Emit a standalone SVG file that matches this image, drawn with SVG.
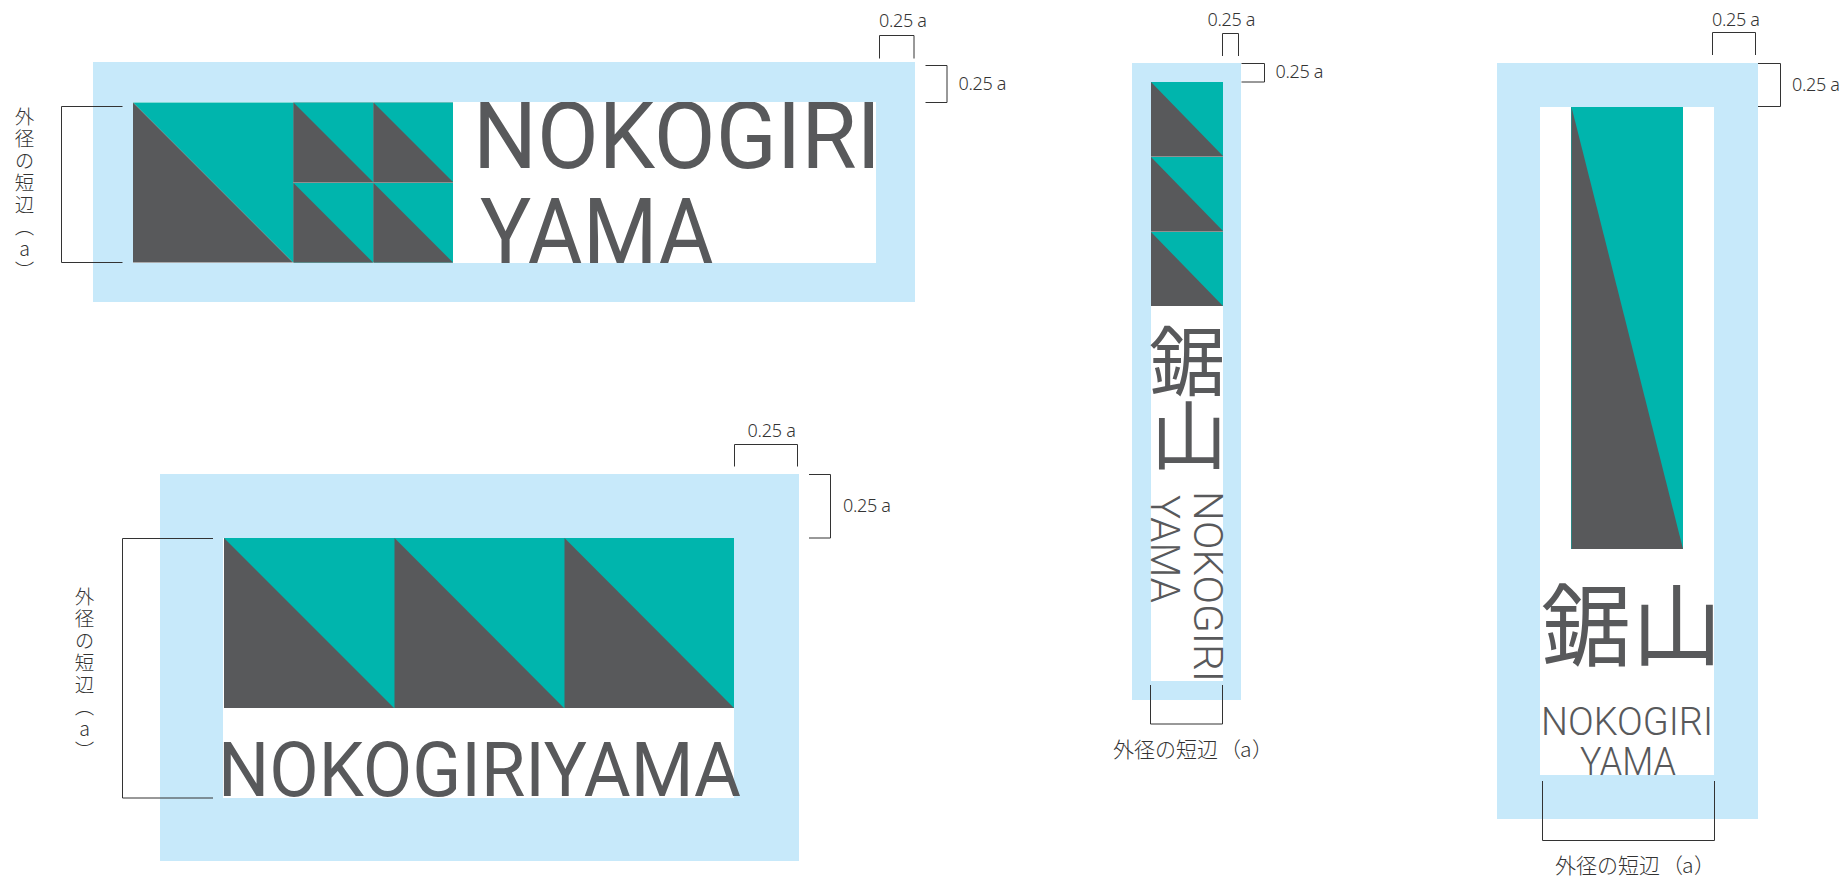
<svg xmlns="http://www.w3.org/2000/svg" width="1845" height="878" viewBox="0 0 1845 878">
<style>
.blue{fill:#c7e9fa}.white{fill:#fff}.teal{fill:#00b5ad}.gray{fill:#58595b}
.hair{fill:none;stroke:#8f9091;stroke-width:1}
.logo{fill:#58595b;font-family:Roboto,"Noto Sans",sans-serif;font-weight:400}
.thin{font-weight:300}
.kanji{fill:#58595b;font-family:"Noto Sans CJK JP",sans-serif;font-weight:400}
.dim{fill:#333;font-family:"Noto Sans","Liberation Sans",sans-serif;font-weight:300;font-size:18px}
.note{fill:#333;font-family:"Noto Sans CJK JP",sans-serif;font-weight:300;font-size:19.500px}
.wide{font-size:21px}
.vert{writing-mode:vertical-rl;text-orientation:upright;letter-spacing:2.500px}
.br{fill:none;stroke:#333;stroke-width:1}
</style>
<defs>
<clipPath id="c1"><rect x="133" y="102" width="743" height="161"/></clipPath>
<clipPath id="c4"><rect x="1540" y="107" width="174" height="668"/></clipPath>
</defs>

<g id="panel-horizontal">
<rect class="blue" x="93" y="62" width="822" height="240"/>
<rect class="white" x="133" y="102" width="743" height="161"/>
<rect x="293" y="102.500" width="160" height="160" fill="#8f9091"/>
<polygon class="teal" points="133,102.500 293,102.500 293,262.500"/>
<polygon class="gray" points="133,102.500 293,262.500 133,262.500"/>
<g id="tile-1"><rect class="teal" x="293.500" y="102.500" width="79.500" height="79.500"/><polygon class="gray" points="293.500,102.500 373,182 293.500,182"/></g>
<g id="tile-2"><rect class="teal" x="373.500" y="102.500" width="79.500" height="79.500"/><polygon class="gray" points="373.500,102.500 453,182 373.500,182"/></g>
<g id="tile-3"><rect class="teal" x="293.500" y="183" width="79.500" height="79.500"/><polygon class="gray" points="293.500,183 373,262.500 293.500,262.500"/></g>
<g id="tile-4"><rect class="teal" x="373.500" y="183" width="79.500" height="79.500"/><polygon class="gray" points="373.500,183 453,262.500 373.500,262.500"/></g>
<g clip-path="url(#c1)">
<text class="logo" x="473" y="168" font-size="92" textLength="408" lengthAdjust="spacingAndGlyphs">NOKOGIRI</text>
<text class="logo" x="480" y="264" font-size="92" textLength="234" lengthAdjust="spacingAndGlyphs">YAMA</text>
</g>
</g>

<g id="panel-wide">
<rect class="blue" x="160" y="474" width="639" height="387"/>
<rect class="white" x="223" y="538" width="511" height="260"/>
<rect class="teal" x="224" y="538" width="510" height="170"/>
<polygon class="gray" points="224,538 394,708 224,708"/>
<polygon class="gray" points="394.500,538 564,708 394.500,708"/>
<polygon class="gray" points="564.500,538 734,708 564.500,708"/>
<text class="logo" x="218" y="796" font-size="76" textLength="523" lengthAdjust="spacingAndGlyphs">NOKOGIRIYAMA</text>
</g>

<g id="panel-narrow">
<rect class="blue" x="1132" y="63" width="109" height="637"/>
<rect class="white" x="1151" y="82" width="72" height="599"/>
<rect class="teal" x="1151" y="82" width="72" height="224"/>
<polygon class="gray" points="1151,82 1223,156 1151,156"/>
<polygon class="gray" points="1151,157 1223,231 1151,231"/>
<polygon class="gray" points="1151,232 1223,306 1151,306"/>
<path class="hair" d="M1151,156.500H1223M1151,231.500H1223"/>
<text class="kanji thin" x="1149" y="390" font-size="76">鋸</text>
<text class="kanji thin" x="1151" y="464" font-size="76">山</text>
<text class="logo thin" transform="translate(1194 491) rotate(90)" font-size="41" textLength="191" lengthAdjust="spacingAndGlyphs">NOKOGIRI</text>
<text class="logo thin" transform="translate(1151 495) rotate(90)" font-size="41" textLength="108" lengthAdjust="spacingAndGlyphs">YAMA</text>
</g>

<g id="panel-tall">
<rect class="blue" x="1497" y="63" width="261" height="756"/>
<rect class="white" x="1540" y="107" width="174" height="668"/>
<rect class="teal" x="1571" y="107" width="112" height="442"/>
<polygon class="gray" points="1571.500,107 1683,549 1571.500,549"/>
<text class="kanji" x="1541" y="659" font-size="90">鋸</text>
<text class="kanji" x="1632" y="659" font-size="90">山</text>
<g clip-path="url(#c4)">
<text class="logo thin" x="1541" y="735" font-size="38" textLength="172" lengthAdjust="spacingAndGlyphs">NOKOGIRI</text>
<text class="logo thin" x="1580" y="775" font-size="38" textLength="96" lengthAdjust="spacingAndGlyphs">YAMA</text>
</g>
</g>

<g id="connectors">
<path class="br" d="M122.500,106.500H61.500V262.500H122.500"/>
<path class="br" d="M879.500,58.500V35.500H914V58.500"/>
<path class="br" d="M925.500,65.500H947V102.500H925.500"/>
<path class="br" d="M213,538.500H122.500V798H213"/>
<path class="br" d="M734.500,466.500V444.500H797.500V466.500"/>
<path class="br" d="M809,474.500H830.500V538H809"/>
<path class="br" d="M1222.500,56V33.500H1238.500V56"/>
<path class="br" d="M1241.500,63.500H1264.500V82H1241.500"/>
<path class="br" d="M1150.500,685V724H1222.500V685"/>
<path class="br" d="M1712.500,55V32.500H1755.500V55"/>
<path class="br" d="M1758,63.500H1780.500V106.500H1758"/>
<path class="br" d="M1542.500,781V840.500H1714.500V781"/>
</g>

<g id="labels">
<text class="dim" x="879" y="27" textLength="48">0.25 a</text>
<text class="dim" x="958.500" y="90" textLength="48">0.25 a</text>
<text class="dim" x="747.500" y="436.500" textLength="48.500">0.25 a</text>
<text class="dim" x="843" y="511.500" textLength="48">0.25 a</text>
<text class="dim" x="1207.500" y="26" textLength="48">0.25 a</text>
<text class="dim" x="1275.500" y="78" textLength="48">0.25 a</text>
<text class="dim" x="1712" y="26" textLength="48">0.25 a</text>
<text class="dim" x="1792" y="90.500" textLength="48">0.25 a</text>
<text class="note vert" x="24.500" y="107">外径の短辺（a）</text>
<text class="note vert" x="84.500" y="587">外径の短辺（a）</text>
<text class="note wide" x="1113" y="757">外径の短辺<tspan x="1220">（</tspan><tspan x="1240">a</tspan><tspan x="1252">）</tspan></text>
<text class="note wide" x="1555" y="872.500">外径の短辺<tspan x="1662">（</tspan><tspan x="1682">a</tspan><tspan x="1694">）</tspan></text>
</g>
</svg>
